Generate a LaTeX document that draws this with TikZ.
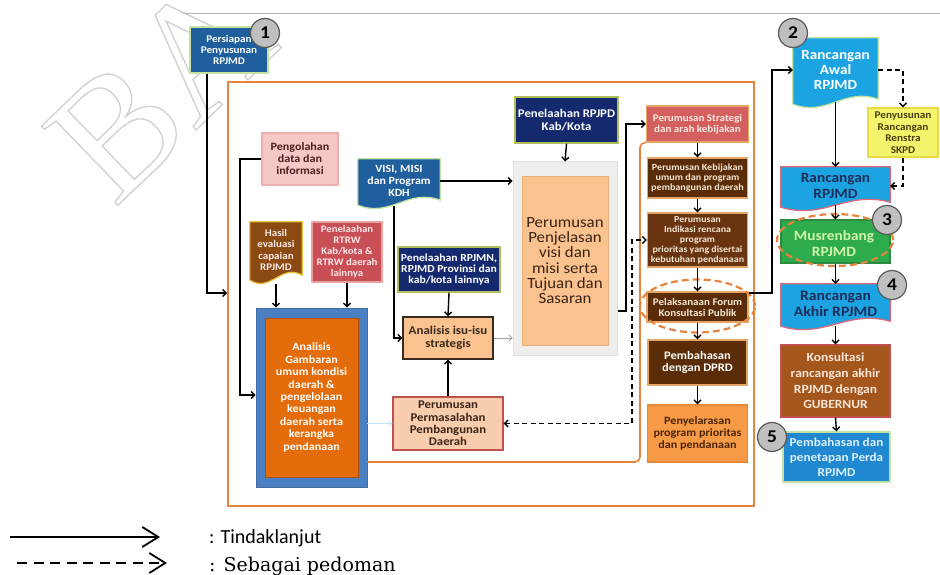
\documentclass[tikz,border=0pt]{standalone}
\usepackage{fontspec}
\setmainfont{Carlito}[FakeStretch=1.08]
\newfontfamily\plainsans{Carlito}
\newfontfamily\legserif{DejaVu Serif}
\newfontfamily\wmserif{Liberation Serif}
\usetikzlibrary{calc,arrows.meta,shapes.geometric,backgrounds}
\newcommand\fsz[2]{\fontsize{#1}{#2}\selectfont}
\definecolor{frameor}{HTML}{E4843E}
\definecolor{dblue}{HTML}{1F5F9E}
\definecolor{lgreen}{HTML}{C3E3A0}
\definecolor{navy}{HTML}{152A6E}
\definecolor{olive}{HTML}{B0BE5C}
\definecolor{pinkbox}{HTML}{F5C8C6}
\definecolor{pinkbrd}{HTML}{EBB0AE}
\definecolor{pinktxt}{HTML}{4A2020}
\definecolor{brownA}{HTML}{8B4A12}
\definecolor{yellowb}{HTML}{E9C23A}
\definecolor{redbox}{HTML}{C94F57}
\definecolor{redlight}{HTML}{E8A0A0}
\definecolor{rtrwtxt}{HTML}{FDE8E8}
\definecolor{bluebig}{HTML}{4A7FC1}
\definecolor{orbig}{HTML}{E46C0A}
\definecolor{peach}{HTML}{FAC28F}
\definecolor{peach2}{HTML}{F8CDAE}
\definecolor{darkbrd}{HTML}{3A2A1E}
\definecolor{redbrd}{HTML}{C0504D}
\definecolor{darktxt}{HTML}{3A2314}
\definecolor{lightgray}{HTML}{F0EEEC}
\definecolor{peachbrd}{HTML}{E9B07A}
\definecolor{rose}{HTML}{D3605E}
\definecolor{rosetxt}{HTML}{FCE9E2}
\definecolor{dbrown}{HTML}{5A2C08}
\definecolor{dbrown2}{HTML}{6A3410}
\definecolor{brdor}{HTML}{E6A565}
\definecolor{lighttxt}{HTML}{F6E8D6}
\definecolor{orbox}{HTML}{F79A45}
\definecolor{orbrd}{HTML}{E8883A}
\definecolor{txtbrown}{HTML}{4A2508}
\definecolor{cyanb}{HTML}{1CA4E2}
\definecolor{yellowbox}{HTML}{F3F36C}
\definecolor{yellowbrd}{HTML}{E6DA48}
\definecolor{yeltxt}{HTML}{4A4010}
\definecolor{rrbrd}{HTML}{D46A7A}
\definecolor{greenb}{HTML}{2EAB4C}
\definecolor{greenbrd}{HTML}{2E8A40}
\definecolor{greentxt}{HTML}{CFF5A8}
\definecolor{navytxt}{HTML}{1C2D5C}
\definecolor{konsul}{HTML}{A4561C}
\definecolor{konstxt}{HTML}{FBE6D8}
\definecolor{blueperda}{HTML}{1F88D0}
\definecolor{perdatxt}{HTML}{DDF1FF}
\definecolor{circgray}{HTML}{BFBFBF}
\definecolor{wmgray}{HTML}{D2D2D2}
\definecolor{lblue}{HTML}{BFE3F5}
\tikzset{
 bx/.style={draw, line width=1.3pt, inner sep=0pt, align=center, font=\bfseries, text=white},
 dc/.style={inner sep=0pt, align=center, font=\bfseries, text=white},
 ar/.style={-{Straight Barb[length=3.5pt,width=7pt]}, line width=1.4pt, draw=black},
 arthin/.style={-{Straight Barb[length=3pt,width=6pt]}, line width=0.8pt},
 dar/.style={ar, dash pattern=on 5pt off 3.5pt},
 num/.style={circle, draw=black!65, fill=circgray, line width=1.2pt, minimum size=29pt, inner sep=0pt, font=\bfseries\fsz{18}{18}},
 oell/.style={ellipse, draw=frameor, line width=2.2pt, dash pattern=on 7pt off 4pt, inner sep=0pt},
}
\newcommand\docshape[3]{%
 \begin{scope}[on background layer]
 \path[fill=#2, draw=#3, line width=1.3pt]
  (#1.north west) -- (#1.north east) -- ($(#1.south east)+(0,-3)$)
  .. controls ($(#1.south east)!0.4!(#1.south west)+(0,-15)$) and ($(#1.south east)!0.6!(#1.south west)+(0,15)$)
  .. ($(#1.south west)+(0,2)$) -- cycle;
 \end{scope}}
\begin{document}
\begin{tikzpicture}[x=1pt,y=-1pt]
\useasboundingbox (0,0) rectangle (940,575);
\clip (0,0) rectangle (940,575);
\begin{scope}[on background layer]
\node[anchor=center, rotate=44, inner sep=0pt, text=wmgray, font=\wmserif\fsz{168}{168}] (wm) at (160,88) {\special{pdf:literal direct 1 Tr 1.4 w}BA\special{pdf:literal direct 0 Tr 1 w}};
\end{scope}
\draw[gray!55, line width=1pt] (183,14) -- (940,14);
\node[draw=frameor, line width=2pt, minimum width=526pt, minimum height=424pt, inner sep=0pt] (frame) at (491,294) {};
% left part
\node[bx, fill=dblue, draw=lgreen, minimum width=78pt, minimum height=46pt, font=\bfseries\fsz{10.3}{11.4}] (prep) at (229,50) {Persiapan\\Penyusunan\\RPJMD};
\node[bx, fill=pinkbox, draw=pinkbrd, text=pinktxt, minimum width=76pt, minimum height=52pt, font=\bfseries\fsz{11.2}{12}] (olah) at (300,159) {Pengolahan\\data dan\\informasi};
\node[dc, minimum width=82pt, minimum height=44pt, font=\bfseries\fsz{11}{12}] (visi) at (399,181) {VISI, MISI\\dan Program\\KDH};
\docshape{visi}{dblue}{lgreen}
\node[dc, text=rtrwtxt, minimum width=52pt, minimum height=56pt, font=\bfseries\fsz{10.2}{11.2}] (hasil) at (276,250) {Hasil\\evaluasi\\capaian\\RPJMD};
\docshape{hasil}{brownA}{yellowb}
\node[bx, fill=redbox, draw=redlight, text=rtrwtxt, minimum width=70pt, minimum height=60pt, font=\bfseries\fsz{10}{11}] (rtrw) at (347,252) {Penelaahan\\RTRW\\Kab/kota \&\\RTRW daerah\\lainnya};
\node[fill=bluebig, draw=bluebig!85!black, line width=0.8pt, minimum width=111pt, minimum height=179pt, inner sep=0pt] (ag) at (311.5,397.5) {};
\node[bx, fill=orbig, draw=orbig!75!black, line width=0.8pt, minimum width=93pt, minimum height=159pt, font=\bfseries\fsz{11.2}{12.4}] (agi) at (ag.center) {Analisis\\Gambaran\\umum kondisi\\daerah \&\\pengelolaan\\keuangan\\daerah serta\\kerangka\\pendanaan};
\node[bx, fill=navy, draw=olive, minimum width=102pt, minimum height=45pt, font=\bfseries\fsz{10.8}{11.4}] (rpjmn) at (449,269.5) {Penelaahan RPJMN,\\RPJMD Provinsi dan\\kab/kota lainnya};
\node[bx, fill=peach, draw=darkbrd, text=darkbrd, minimum width=90pt, minimum height=42pt, font=\bfseries\fsz{12}{12.8}] (isu) at (448,338) {Analisis isu-isu\\strategis};
\node[bx, fill=peach2, draw=redbrd, text=darktxt, minimum width=110pt, minimum height=53pt, font=\bfseries\fsz{11.8}{12.3}] (perm) at (448,423.5) {Perumusan\\Permasalahan\\Pembangunan\\Daerah};
\node[bx, fill=navy, draw=olive, minimum width=103pt, minimum height=46pt, font=\bfseries\fsz{11.8}{12.4}] (rpjpd) at (566.5,120) {Penelaahan RPJPD\\Kab/Kota};
\node[fill=lightgray, draw=gray!25, line width=1pt, minimum width=104pt, minimum height=193pt, inner sep=0pt] (pj) at (565,258.5) {};
\node[fill=peach, draw=peachbrd, line width=0.8pt, minimum width=86pt, minimum height=169pt, inner sep=0pt, align=center, text=darktxt, font=\fsz{15.6}{15.2}] (pji) at (565,260.5) {Perumusan\\Penjelasan\\visi dan\\misi serta\\Tujuan dan\\Sasaran};
% middle-right column
\node[bx, fill=rose, draw=brdor, text=rosetxt, minimum width=102pt, minimum height=36pt, font=\bfseries\fsz{10.2}{11.4}] (strat) at (697.5,124) {Perumusan Strategi\\dan arah kebijakan};
\node[bx, fill=dbrown, draw=brdor, text=lighttxt, minimum width=100pt, minimum height=40pt, font=\bfseries\fsz{9.4}{10.3}] (keb) at (697.5,178) {Perumusan Kebijakan\\umum dan program\\pembangunan daerah};
\node[bx, fill=dbrown2, draw=brdor, text=lighttxt, minimum width=100pt, minimum height=54pt, font=\bfseries\fsz{9.2}{9.9}] (indik) at (697.5,240) {Perumusan\\Indikasi rencana\\program\\prioritas yang disertai\\kebutuhan pendanaan};
\node[bx, fill=dbrown, draw=brdor, text=lighttxt, minimum width=101pt, minimum height=30pt, font=\bfseries\fsz{10.2}{11}] (pel) at (697.5,307) {Pelaksanaan Forum\\Konsultasi Publik};
\node[oell, minimum width=115pt, minimum height=53pt] (pelel) at (697.5,306) {};
\node[bx, fill=dbrown, draw=brdor, minimum width=99pt, minimum height=45pt, font=\bfseries\fsz{11.6}{12.6}] (dprd) at (697.5,362.5) {Pembahasan\\dengan DPRD};
\node[bx, fill=orbox, draw=orbrd, text=txtbrown, minimum width=100pt, minimum height=57pt, font=\bfseries\fsz{11.2}{12.3}] (sel) at (697.5,433.5) {Penyelarasan\\program prioritas\\dan pendanaan};
% right column
\node[dc, minimum width=85pt, minimum height=64pt, font=\bfseries\fsz{14}{14.6}] (ra) at (835.5,70) {Rancangan\\Awal\\RPJMD};
\docshape{ra}{cyanb}{lgreen}
\node[bx, fill=yellowbox, draw=yellowbrd, text=yeltxt, minimum width=70pt, minimum height=49pt, font=\bfseries\fsz{10.4}{11.6}] (yel) at (903,132.5) {Penyusunan\\Rancangan\\Renstra\\SKPD};
\node[dc, text=navytxt, minimum width=109pt, minimum height=38pt, font=\bfseries\fsz{14.2}{16.5}] (rr) at (835.5,186) {Rancangan\\RPJMD};
\docshape{rr}{cyanb}{rrbrd}
\node[bx, fill=greenb, draw=greenbrd, minimum width=109pt, minimum height=43pt] (mus) at (835.5,241.5) {};
\node[inner sep=0pt, align=center, text=greentxt, font=\bfseries\fsz{14.2}{16.5}] (mustxt) at (834,243.5) {Musrenbang\\RPJMD};
\node[oell, minimum width=116pt, minimum height=52pt] (musel) at (835,240) {};
\node[dc, text=navytxt, minimum width=109pt, minimum height=40pt, font=\bfseries\fsz{14.5}{15.4}] (rak) at (835.5,304) {Rancangan\\Akhir RPJMD};
\docshape{rak}{cyanb}{rrbrd}
\node[bx, fill=konsul, draw=redbrd, text=konstxt, minimum width=109pt, minimum height=72pt, font=\bfseries\fsz{12.5}{15.6}] (kons) at (835.5,381) {Konsultasi\\rancangan akhir\\RPJMD dengan\\GUBERNUR};
\node[bx, fill=blueperda, draw=lgreen, text=perdatxt, minimum width=107pt, minimum height=50pt, font=\bfseries\fsz{12.2}{15}] (perda) at (836.5,457) {Pembahasan dan\\penetapan Perda\\RPJMD};
% numbers
\node[num] (n1) at (265,33) {1};
\node[num] (n2) at (793,33) {2};
\node[num] (n3) at (887,220) {3};
\node[num] (n4) at (892,285) {4};
\node[num] (n5) at (772,437) {5};
% inner orange line
\coordinate (j7) at (640,462);
\draw[frameor, line width=1.6pt, rounded corners=5pt] (j7 -| ag.east) -- (j7) -- (j7 |- strat.south) -- (strat.south west);
% connectors
\coordinate (j1) at (207,293);
\draw[ar] (prep.south -| j1) -- (j1) -- (j1 -| frame.west);
\coordinate (j2) at (240,395);
\draw[ar] (olah.west) -| (j2) -- (j2 -| ag.west);
\draw[ar] ($(hasil.south)+(0,6)$) -- (hasil.south |- ag.north);
\draw[ar] (rtrw.south) -- (rtrw.south |- ag.north);
\draw[ar] (visi.east) -- (visi.east -| pj.west);
\coordinate (j3) at (394,338);
\draw[ar] ($(visi.south -| j3)+(0,3)$) -- (j3) -- (isu.west);
\draw[ar] (rpjmn.south) -- (isu.north);
\draw[ar] (perm.north) -- (isu.south);
\draw[arthin, draw=gray!75] (isu.east) -- (isu.east -| pj.west);
\draw[arthin, draw=lblue] (ag.east |- perm.west) -- (perm.west);
\draw[ar] (rpjpd.south) -- (pj.north);
\coordinate (j4) at (626,311);
\draw[ar] (pj.east |- j4) -- (j4) |- (strat.west);
\coordinate (j5) at (632,423.5);
\draw[dar, {Straight Barb[length=3.5pt,width=7pt]}-{Straight Barb[length=3.5pt,width=7pt]}] (perm.east) -- (j5) |- (indik.west);
\draw[ar] (strat.south) -- (keb.north);
\draw[ar] (keb.south) -- (indik.north);
\draw[ar] (indik.south) -- (pel.north);
\draw[ar] (pel.south) -- (dprd.north);
\draw[ar] (dprd.south) -- (sel.north);
\coordinate (j6) at (772,293);
\draw[ar] (pel.east |- j6) -- (j6) |- (ra.west);
\draw[ar] (ra.south) -- (rr.north);
\draw[dar] (ra.east) -| (yel.north);
\draw[dar] (yel.south) |- (rr.east);
\draw[ar] (rr.south) -- (mus.north);
\draw[ar] (mus.south) -- (rak.north);
\draw[ar] ($(rak.south)+(0,2)$) -- (kons.north);
\draw[ar] (kons.south) -- (perda.north);
% legend
\coordinate (la) at (10,537);
\coordinate (lb) at (160,537);
\draw[line width=1.8pt, -{Straight Barb[length=16pt,width=20pt]}] (la) -- (lb);
\coordinate (lc) at (17,563);
\coordinate (ld) at (167,563);
\draw[line width=1.8pt, dash pattern=on 10pt off 6.5pt, -{Straight Barb[length=16pt,width=20pt]}] (lc) -- (ld);
\node[anchor=base west, inner sep=0pt, font=\plainsans\fsz{20}{20}] (t1) at (209,543) {: Tindaklanjut};
\node[anchor=base west, inner sep=0pt, font=\legserif\fsz{19}{19}] (t2) at (209,571) {: Sebagai pedoman};
\end{tikzpicture}
\end{document}
